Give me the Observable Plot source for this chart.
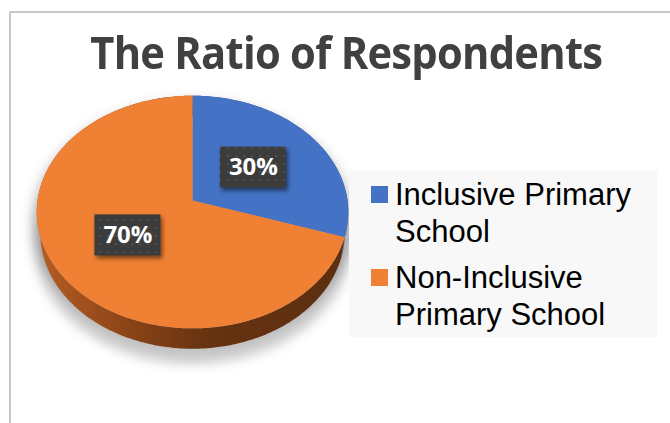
<!DOCTYPE html>
<html><head><meta charset="utf-8">
<script src="https://cdn.jsdelivr.net/npm/d3@7"></script>
<script src="https://cdn.jsdelivr.net/npm/@observablehq/plot@0.6"></script>
<style>
html,body{margin:0;padding:0;background:#fff;width:670px;height:423px;overflow:hidden;position:relative;}
#frame{position:absolute;left:9px;top:11px;width:700px;height:450px;border-left:2px solid #c8c8c8;border-top:2px solid #c8c8c8;}
#chart{position:absolute;left:0;top:0;}
#title{position:absolute;left:-54px;width:800px;text-align:center;top:30px;line-height:44px;white-space:nowrap;}
#titleText{display:inline-block;font-family:"Open Sans";font-weight:bold;font-size:45px;color:#404040;letter-spacing:-0.8px;transform-origin:50% 50%;}
#legend{position:absolute;left:349px;top:170px;width:308px;height:167px;background:#f8f8f8;font-family:"Liberation Sans",Arial,sans-serif;font-size:31px;line-height:37px;color:#000;}
.item{position:absolute;left:0;width:308px;}
.sw{position:absolute;left:22px;top:10px;width:17px;height:17px;}
.lab{position:absolute;left:46px;top:0;width:255px;}
</style></head><body>
<div id="frame"></div>
<div id="chart"></div>
<div id="title"><span id="titleText"></span></div>
<div id="legend"></div>
<script>
const title = "The Ratio of Respondents";
const categories = ["Inclusive Primary School", "Non-Inclusive Primary School"];
const values = [30, 70];
const labels = ["30%", "70%"];
const colors = ["#4472C4", "#F08033"];
const sideColors = ["#2f5597", "url(#sideGrad)"];

// title: fit to the reference width with a slight horizontal condensing
const tt = document.getElementById("titleText");
tt.textContent = title;
const w0 = tt.getBoundingClientRect().width;
if (w0 > 0) tt.style.transform = `scaleX(${Math.min(1, 512 / w0)})`;

// perspective pie geometry
const cx = 192, cy = 200, R = 155;
const D = 6.75, phi = 48 * Math.PI / 180, cph = Math.cos(phi), sph = Math.sin(phi), depth = 0.21;
function project(X, Z, Y) {
  const v = Y * cph - Z * sph;
  const w = D - (Z * cph + Y * sph);
  return [X * D / w, v * D / w];
}
const total = d3.sum(values);
let acc = 0;
const slices = values.map((v, i) => {
  const a0 = acc / total * 2 * Math.PI; acc += v;
  const a1 = acc / total * 2 * Math.PI;
  return {i, cat: categories[i], label: labels[i], a0, a1};
});
function arcPts(a0, a1, r, Y) {
  const n = Math.max(2, Math.ceil((a1 - a0) / (Math.PI / 180)));
  return d3.range(n + 1).map(k => {
    const a = a0 + (a1 - a0) * k / n;
    return project(r * Math.sin(a), -r * Math.cos(a), Y);
  });
}
const topPts = [], sidePts = [], shadowPts = [];
slices.forEach(s => {
  [project(0, 0, 0), ...arcPts(s.a0, s.a1, 1, 0)].forEach(p => topPts.push({x: p[0], y: p[1], cat: s.cat}));
  [...arcPts(s.a0, s.a1, 1, 0), ...arcPts(s.a0, s.a1, 1, -depth).reverse()].forEach(p => sidePts.push({x: p[0], y: p[1], cat: s.cat}));
});
arcPts(0, 2 * Math.PI, 1.05, -depth - 0.08).forEach(p => shadowPts.push({x: p[0], y: p[1], k: "b"}));
arcPts(0, 2 * Math.PI, 1.04, -0.08).forEach(p => shadowPts.push({x: p[0], y: p[1], k: "t"}));

const bw = 33 / R, bh = 20.5 / R;
const labelData = slices.map(s => {
  const m = (s.a0 + s.a1) / 2;
  const p = project(0.5 * Math.sin(m), -0.5 * Math.cos(m), 0);
  return {x: p[0], y: p[1], text: s.label};
});

const NS = "http://www.w3.org/2000/svg";
const defsMark = () => {
  const g = document.createElementNS(NS, "defs");
  g.innerHTML = `<linearGradient id="sideGrad" x1="0" x2="1" y1="0" y2="0">
    <stop offset="0" stop-color="#b65d23"/><stop offset="0.3" stop-color="#8a4417"/>
    <stop offset="0.55" stop-color="#673310"/><stop offset="1" stop-color="#5c2e10"/></linearGradient>
    <pattern id="dots" width="8" height="8" patternUnits="userSpaceOnUse">
    <rect width="8" height="8" fill="#3c3c3c"/><circle cx="4" cy="4" r="1.1" fill="#555"/></pattern>`;
  return g;
};

const plot = Plot.plot({
  width: 670, height: 423, margin: 0,
  x: {domain: [-1, 1], range: [cx - R, cx + R]},
  y: {domain: [-1, 1], range: [cy + R, cy - R]},
  color: {domain: categories, range: colors},
  axis: null,
  style: {background: "transparent", overflow: "visible"},
  marks: [
    defsMark,
    Plot.line(shadowPts, {x: "x", y: "y", z: "k", fill: "#000", fillOpacity: 0.22, stroke: "none", imageFilter: "blur(6px)"}),
    Plot.line(sidePts, {x: "x", y: "y", z: "cat", fill: d => sideColors[categories.indexOf(d.cat)], stroke: "none"}),
    Plot.line(topPts, {x: "x", y: "y", z: "cat", fill: "cat", stroke: "none"}),
    Plot.rect(labelData, {x1: d => d.x - bw, x2: d => d.x + bw, y1: d => d.y - bh, y2: d => d.y + bh, fill: "url(#dots)", imageFilter: "drop-shadow(2px 3px 2px rgba(0,0,0,0.5))"}),
    Plot.text(labelData, {x: "x", y: "y", text: "text", fill: "white", fontSize: 24, fontWeight: "bold", fontFamily: "Open Sans"})
  ]
});
document.getElementById("chart").appendChild(plot);

// legend
const lg = document.getElementById("legend");
categories.forEach((c, i) => {
  const it = document.createElement("div");
  it.className = "item";
  it.style.top = (6 + 83 * i) + "px";
  it.innerHTML = `<div class="sw" style="background:${colors[i]}"></div><div class="lab">${c}</div>`;
  lg.appendChild(it);
});
</script>
</body></html>
